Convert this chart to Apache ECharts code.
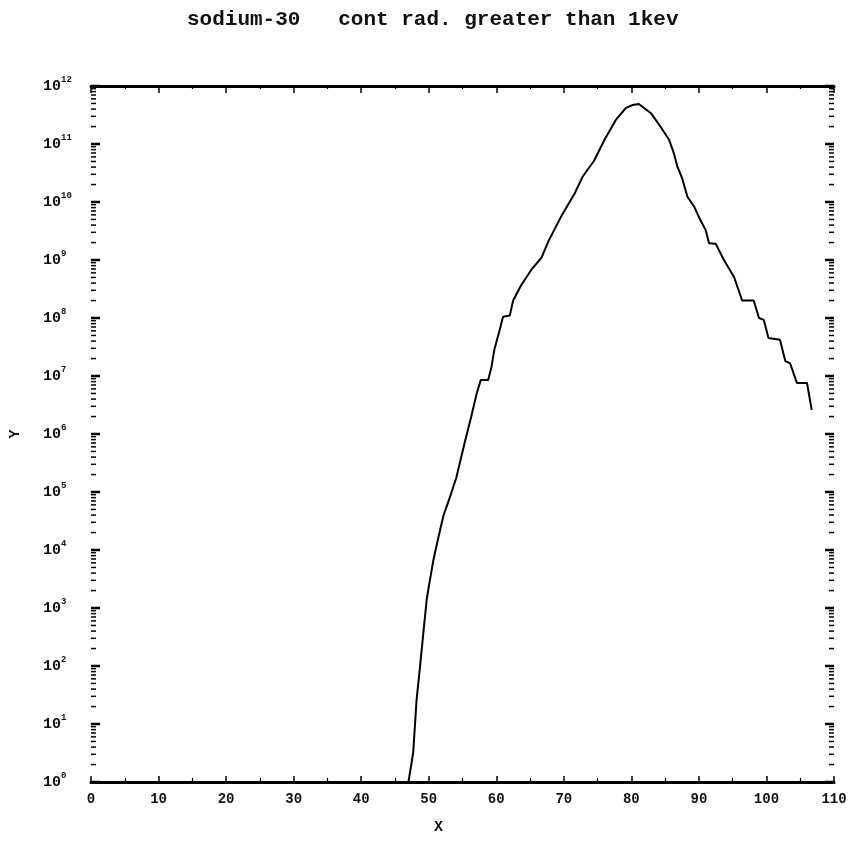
<!DOCTYPE html>
<html><head><meta charset="utf-8">
<script src="https://cdn.jsdelivr.net/npm/echarts@6/dist/echarts.min.js"></script>
<style>html,body{margin:0;padding:0;background:#fff}#c{width:853px;height:842px}</style>
</head><body><div id="c"></div>
<script>
const titleText = 'sodium-30   cont rad. greater than 1kev';
const xAxisName = 'X';
const yAxisName = 'Y';
const xVals = [47.0, 47.7, 48.2, 48.7, 49.2, 49.7, 50.0, 50.7, 51.4, 52.2, 53.1, 54.1, 55.3, 56.3, 57.1, 57.7, 58.8, 59.3, 59.7, 60.5, 61.0, 62.0, 62.5, 63.7, 65.2, 66.7, 67.8, 69.6, 71.6, 72.8, 74.5, 76.0, 77.7, 79.2, 80.2, 81.1, 82.9, 84.3, 85.6, 86.3, 86.8, 87.5, 88.3, 89.3, 90.1, 91.0, 91.5, 92.5, 93.7, 95.2, 96.4, 98.1, 98.9, 99.6, 100.3, 102.0, 102.8, 103.5, 104.5, 106.0, 106.7];
const yVals = [1, 3.2, 26, 95, 370, 1.4e3, 2.3e3, 6.8e3, 1.6e4, 4.0e4, 7.9e4, 1.8e5, 6.9e5, 2.0e6, 5.0e6, 8.5e6, 8.5e6, 1.45e7, 2.8e7, 6.2e7, 1.05e8, 1.1e8, 2.0e8, 3.7e8, 6.8e8, 1.1e9, 2.2e9, 5.6e9, 1.4e10, 2.75e10, 5.2e10, 1.17e11, 2.6e11, 4.2e11, 4.7e11, 4.9e11, 3.4e11, 2.0e11, 1.17e11, 6.9e10, 4.1e10, 2.6e10, 1.23e10, 8.3e9, 5.2e9, 3.3e9, 1.95e9, 1.9e9, 1.0e9, 5.1e8, 2.0e8, 2.0e8, 1.0e8, 9.3e7, 4.5e7, 4.2e7, 1.8e7, 1.66e7, 7.6e6, 7.6e6, 2.6e6];
const xMin = 0, xMax = 110, xStep = 10;
const yMinExp = 0, yMaxExp = 12;
const minorMantissas = [2, 3, 4, 5, 6, 7, 8, 9];

const FONT = '"Liberation Mono", "DejaVu Sans Mono", monospace';
const lineData = xVals.map((x, i) => [x, yVals[i]]);
const tickData = [];
for (let e = yMinExp; e <= yMaxExp; e++) {
  tickData.push([1, Math.pow(10, e)]);
  if (e < yMaxExp) minorMantissas.forEach(m => tickData.push([0, m * Math.pow(10, e)]));
}
const supLabel = v => {
  const e = Math.round(Math.log10(v));
  return '{b|10}{s|' + e + '}';
};

const chart = echarts.init(document.getElementById('c'), null, {renderer: 'canvas'});
chart.setOption({
  backgroundColor: '#fff',
  animation: false,
  title: {
    text: titleText, left: 182, top: 4,
    textStyle: {fontFamily: FONT, fontSize: 21, fontWeight: 'bold', color: '#111'}
  },
  grid: {left: 88, right: 19, top: 86, bottom: 60},
  xAxis: [{
    type: 'value', min: xMin, max: xMax, interval: xStep, position: 'bottom',
    name: xAxisName, nameLocation: 'middle', nameGap: 38,
    nameTextStyle: {fontFamily: FONT, fontSize: 15, fontWeight: 'bold', color: '#111', padding: [0, 48, 0, 0]},
    axisLine: {show: true, onZero: false, lineStyle: {color: '#000', width: 3}},
    axisTick: {show: true, inside: true, length: 6, lineStyle: {color: '#000', width: 1.5}},
    minorTick: {show: true, splitNumber: 2, length: 4, lineStyle: {color: '#000', width: 1.2}},
    axisLabel: {margin: 10, fontFamily: FONT, fontSize: 14, fontWeight: 'bold', color: '#111'},
    splitLine: {show: false}
  }, {
    type: 'value', min: xMin, max: xMax, interval: xStep, position: 'top',
    axisLine: {show: true, onZero: false, lineStyle: {color: '#000', width: 3}},
    axisTick: {show: true, inside: true, length: 7, lineStyle: {color: '#000', width: 1.5}},
    minorTick: {show: true, splitNumber: 2, length: 3, lineStyle: {color: '#000', width: 1.2}},
    axisLabel: {show: false},
    splitLine: {show: false}
  }],
  yAxis: [{
    type: 'log', logBase: 10, min: Math.pow(10, yMinExp), max: Math.pow(10, yMaxExp), interval: 1,
    position: 'left',
    name: yAxisName, nameLocation: 'middle', nameGap: 68, nameRotate: 90,
    nameTextStyle: {fontFamily: FONT, fontSize: 15, fontWeight: 'bold', color: '#111'},
    axisLine: {show: false},
    axisTick: {show: false},
    axisLabel: {
      margin: 48, align: 'left', formatter: supLabel,
      rich: {
        b: {fontFamily: FONT, fontSize: 15, fontWeight: 'bold', color: '#111', lineHeight: 22},
        s: {fontFamily: FONT, fontSize: 9, fontWeight: 'bold', color: '#111', lineHeight: 10, verticalAlign: 'top'}
      }
    },
    splitLine: {show: false}
  }],
  series: [{
    type: 'custom',
    xAxisIndex: 0, yAxisIndex: 0,
    silent: true,
    clip: false,
    data: tickData,
    encode: {x: 0, y: 1},
    renderItem: (params, api) => {
      const major = api.value(0) === 1;
      const v = api.value(1);
      const l = api.coord([xMin, v]);
      const r = api.coord([xMax, v]);
      const len = major ? 9 : 5;
      const st = {stroke: '#000', lineWidth: major ? 2.5 : 1.5};
      return {type: 'group', children: [
        {type: 'line', shape: {x1: l[0], y1: l[1], x2: l[0] + len, y2: l[1]}, style: st},
        {type: 'line', shape: {x1: r[0], y1: r[1], x2: r[0] - len, y2: r[1]}, style: st}
      ]};
    }
  }, {
    type: 'line',
    xAxisIndex: 0, yAxisIndex: 0,
    data: lineData,
    showSymbol: false,
    smooth: false,
    lineStyle: {color: '#000', width: 2}
  }]
});
</script>
</body></html>
